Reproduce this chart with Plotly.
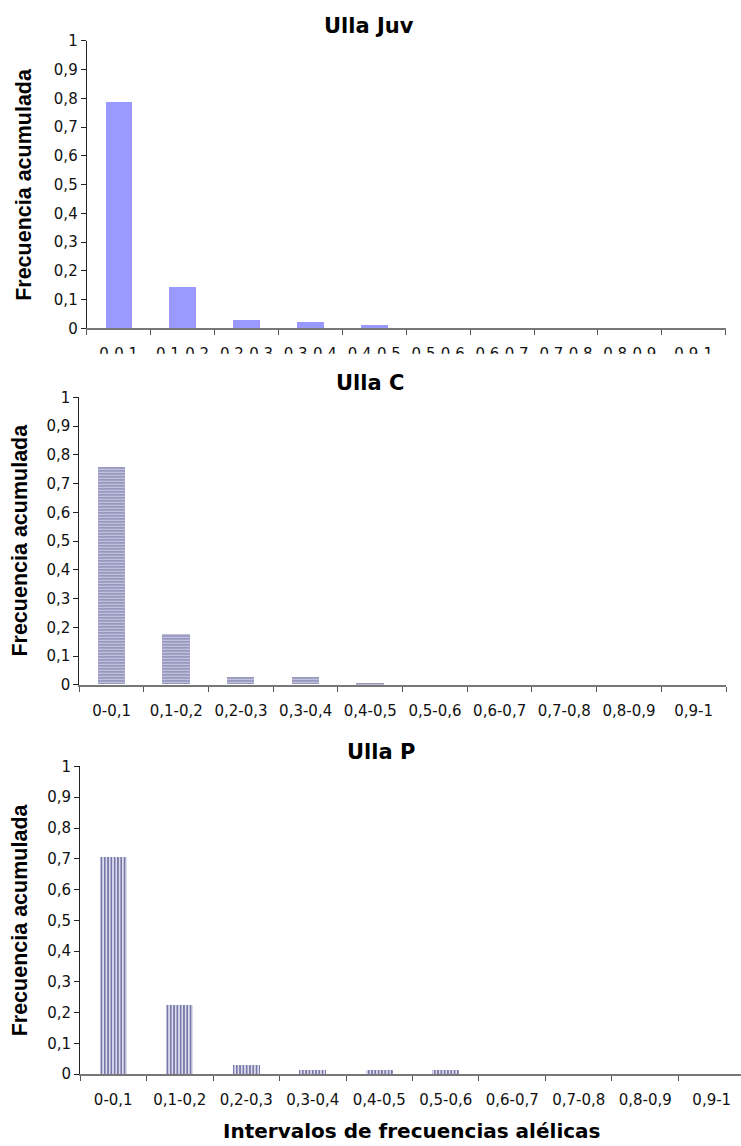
import plotly.graph_objects as go

categories = ["0-0,1", "0,1-0,2", "0,2-0,3", "0,3-0,4", "0,4-0,5",
              "0,5-0,6", "0,6-0,7", "0,7-0,8", "0,8-0,9", "0,9-1"]
ulla_juv = [0.787, 0.146, 0.030, 0.023, 0.012, 0, 0, 0, 0, 0]
ulla_c = [0.757, 0.175, 0.025, 0.025, 0.006, 0, 0, 0, 0, 0]
ulla_p = [0.704, 0.224, 0.028, 0.011, 0.011, 0.011, 0, 0, 0, 0]
titles = ["Ulla Juv", "Ulla C", "Ulla P"]
y_ticks = [0, 0.1, 0.2, 0.3, 0.4, 0.5, 0.6, 0.7, 0.8, 0.9, 1]
y_tick_text = ["0", "0,1", "0,2", "0,3", "0,4", "0,5", "0,6", "0,7", "0,8", "0,9", "1"]
y_title = "Frecuencia acumulada"
x_title = "Intervalos de frecuencias alélicas"

W, H = 741, 1146

def px_x(v):
    return v / W

def px_y(v):
    # the photographed page shows an ~8px top offset and slight vertical squeeze;
    # compensate so items land on their intended screen rows
    v = (v - 8) / 0.985
    return 1 - v / H

fig = go.Figure()

fig.add_trace(go.Bar(x=categories, y=ulla_juv, width=0.42,
                     marker=dict(color="#9999ff", line=dict(width=0)),
                     xaxis="x", yaxis="y", showlegend=False))
fig.add_trace(go.Bar(x=categories, y=ulla_c, width=0.42,
                     marker=dict(color="#d6d6ec", line=dict(width=0),
                                 pattern=dict(shape="-", fgcolor="#7c7cab", bgcolor="#d6d6ec",
                                              size=3, solidity=0.5, fillmode="replace")),
                     xaxis="x2", yaxis="y2", showlegend=False))
fig.add_trace(go.Bar(x=categories, y=ulla_p, width=0.41,
                     marker=dict(color="#dcdcee", line=dict(width=0),
                                 pattern=dict(shape="|", fgcolor="#7878a8", bgcolor="#dcdcee",
                                              size=3.3, solidity=0.5, fillmode="replace")),
                     xaxis="x3", yaxis="y3", showlegend=False))

tick_font = dict(family="DejaVu Sans", size=15, color="#111")

panels = [
    (86.7, 725.7, 40, 327.7, 9.5),
    (79.3, 726.0, 396.7, 684.3, 9.5),
    (80.0, 741.0, 766.0, 1074.0, 9.44),
]

layout = dict(width=W, height=H, margin=dict(l=0, r=0, t=0, b=0),
              paper_bgcolor="white", plot_bgcolor="white", bargap=0)

for i, (x0, x1, yt, yb, xmax) in enumerate(panels):
    sfx = "" if i == 0 else str(i + 1)
    layout["xaxis" + sfx] = dict(
        domain=[px_x(x0), px_x(x1)], anchor="y" + sfx,
        type="category", range=[-0.5, xmax],
        tickson="boundaries", ticks="outside", ticklen=5, tickcolor="#555",
        showline=True, linecolor="#777", linewidth=1.5,
        showgrid=False, zeroline=False, tickfont=tick_font,
        ticklabelstandoff=11, fixedrange=True)
    layout["yaxis" + sfx] = dict(
        domain=[px_y(yb), px_y(yt)], anchor="x" + sfx,
        range=[0, 1], tickvals=y_ticks, ticktext=y_tick_text,
        ticks="outside", ticklen=5, tickcolor="#222",
        showline=True, linecolor="#222", linewidth=1,
        showgrid=False, zeroline=False, tickfont=tick_font, fixedrange=True)

fig.update_layout(**layout)

title_pos = [(369, 25), (370, 382), (381, 752)]
ytitle_pos = [(24, 184), (20, 540), (20, 920)]
anns = []
for t, (tx, ty) in zip(titles, title_pos):
    anns.append(dict(text=t, x=px_x(tx), y=px_y(ty), xref="paper", yref="paper",
                     xanchor="center", yanchor="middle", showarrow=False,
                     font=dict(family="DejaVu Sans", size=21, color="black", weight="bold")))
for (tx, ty) in ytitle_pos:
    anns.append(dict(text=y_title, x=px_x(tx), y=px_y(ty), xref="paper", yref="paper",
                     xanchor="center", yanchor="middle", showarrow=False, textangle=-90,
                     font=dict(family="Liberation Sans", size=21.5, color="black", weight="bold")))
anns.append(dict(text=x_title, x=px_x(412), y=px_y(1131), xref="paper", yref="paper",
                 xanchor="center", yanchor="middle", showarrow=False,
                 font=dict(family="DejaVu Sans", size=20, color="black", weight="bold")))
fig.update_layout(annotations=anns)

# the top panel's category labels are cut through the middle in the reference
fig.add_shape(type="rect", xref="paper", yref="paper", layer="above",
              x0=0, x1=1, y0=px_y(372), y1=px_y(353),
              fillcolor="white", line=dict(width=0))

fig.write_html("out.html")
